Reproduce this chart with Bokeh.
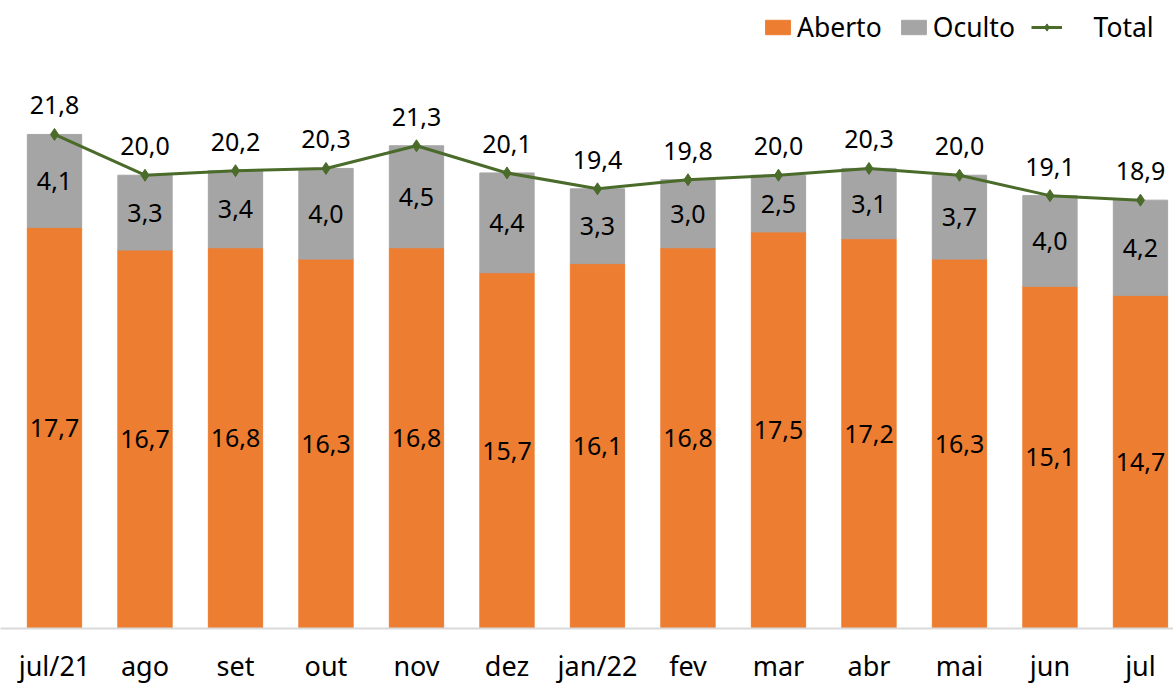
from bokeh.plotting import figure
from bokeh.models import ColumnDataSource, Range1d, FixedTicker, Legend, LegendItem
from bokeh.core.properties import value
from bokeh.embed import file_html
from bokeh.resources import INLINE

months = ["jul/21", "ago", "set", "out", "nov", "dez", "jan/22", "fev", "mar", "abr", "mai", "jun", "jul"]
aberto = [17.7, 16.7, 16.8, 16.3, 16.8, 15.7, 16.1, 16.8, 17.5, 17.2, 16.3, 15.1, 14.7]
oculto = [4.1, 3.3, 3.4, 4.0, 4.5, 4.4, 3.3, 3.0, 2.5, 3.1, 3.7, 4.0, 4.2]
total = [21.8, 20.0, 20.2, 20.3, 21.3, 20.1, 19.4, 19.8, 20.0, 20.3, 20.0, 19.1, 18.9]

FONT = "Noto Sans"
ORANGE = "#ED7D31"
GRAY = "#A5A5A5"
GREEN = "#4A6B2A"

def fmt(v):
    return f"{v:.1f}".replace(".", ",")

x = list(range(len(months)))
src = ColumnDataSource(dict(
    x=x,
    aberto=aberto,
    oculto=oculto,
    total=total,
    top=[a + o for a, o in zip(aberto, oculto)],
    y_ab=[a / 2 for a in aberto],
    y_oc=[a + o / 2 for a, o in zip(aberto, oculto)],
    t_ab=[fmt(v) for v in aberto],
    t_oc=[fmt(v) for v in oculto],
    t_tot=[fmt(v) for v in total],
))

W, H = 1173, 686
p = figure(width=W, height=H, output_backend="svg", toolbar_location=None,
           x_range=Range1d(-0.5967, 12.365), y_range=Range1d(0, 27.71),
           min_border_left=0, min_border_right=0, min_border_top=0, min_border_bottom=58)
p.outline_line_color = None
p.grid.visible = False
p.yaxis.visible = False

r_ab = p.vbar(x="x", bottom=0, top="aberto", width=0.6, color=ORANGE, source=src)
r_oc = p.vbar(x="x", bottom="aberto", top="top", width=0.6, color=GRAY, source=src)
r_line = p.line(x="x", y="total", line_color=GREEN, line_width=3, source=src)
r_pts = p.scatter(x="x", y="total", marker="diamond", size=12, color=GREEN, source=src)

common = dict(text_align="center", text_baseline="middle", text_font=value(FONT),
              text_font_size="25px", text_color="#000000", source=src)
p.text(x="x", y="y_ab", text="t_ab", **common)
p.text(x="x", y="y_oc", text="t_oc", **common)
p.text(x="x", y="total", text="t_tot", y_offset=-29, **common)

ax = p.xaxis[0]
ax.ticker = FixedTicker(ticks=x)
ax.major_label_overrides = {i: m for i, m in enumerate(months)}
ax.major_label_text_font = FONT
ax.major_label_text_font_size = "27px"
ax.major_label_text_color = "#000000"
ax.major_tick_line_color = None
ax.minor_tick_line_color = None
ax.axis_line_color = "#D9D9D9"
ax.axis_line_width = 2
ax.major_label_standoff = 12

legend = Legend(items=[
    LegendItem(label="Aberto", renderers=[r_ab]),
    LegendItem(label="Oculto", renderers=[r_oc]),
    LegendItem(label="\u00a0\u00a0\u00a0\u00a0Total", renderers=[r_line, r_pts]),
], orientation="horizontal", location=(762, 583))
legend.border_line_color = None
legend.background_fill_alpha = 0
legend.label_text_font = FONT
legend.label_text_font_size = "26.5px"
legend.label_text_color = "#000000"
legend.glyph_width = 31
legend.glyph_height = 18
legend.label_standoff = 4
legend.spacing = 16
legend.margin = 0
legend.padding = 4
p.add_layout(legend)

open("out.html", "w").write(file_html(p, INLINE))
